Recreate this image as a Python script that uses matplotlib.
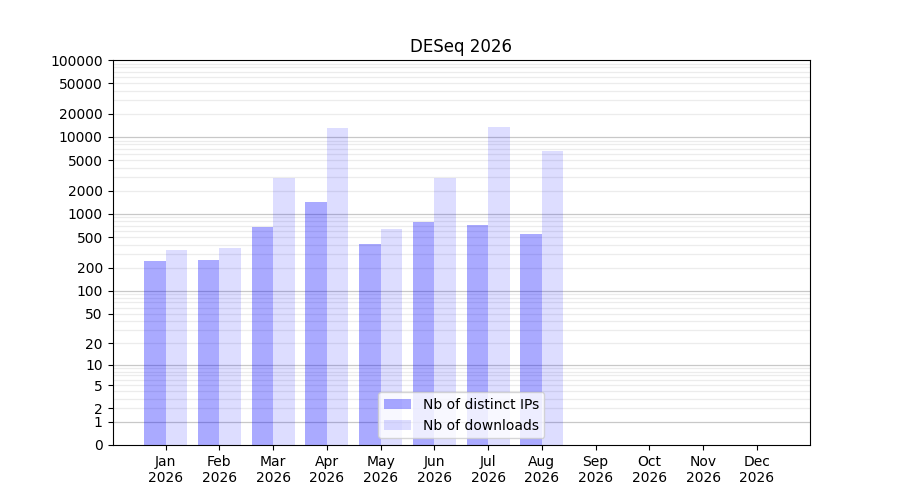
import numpy as np
import matplotlib
matplotlib.use("Agg")
import matplotlib.pyplot as plt

months = ["Jan", "Feb", "Mar", "Apr", "May", "Jun", "Jul", "Aug", "Sep", "Oct", "Nov", "Dec"]
year = "2026"
ips = [247, 254, 683, 1445, 411, 794, 726, 554, 0, 0, 0, 0]
downloads = [343, 364, 2960, 13200, 643, 2960, 13600, 6640, 0, 0, 0, 0]
ytick_values = [0, 1, 2, 5, 10, 20, 50, 100, 200, 500, 1000, 2000, 5000, 10000, 20000, 50000, 100000]

fig, ax = plt.subplots(figsize=(9, 5), dpi=100)
ax.set_yscale("function", functions=(lambda v: np.log10(1 + np.clip(v, 0, None)),
                                     lambda y: 10 ** y - 1))

x = np.arange(len(months))
w = 0.4
ax.bar(x - w / 2, ips, width=w, color="blue", alpha=1 / 3, label="Nb of distinct IPs", zorder=2)
ax.bar(x + w / 2, downloads, width=w, color="blue", alpha=0.135, label="Nb of downloads", zorder=2)

# grid lines
for e in range(0, 5):
    for k in range(1, 10):
        v = k * 10 ** e
        if k == 1:
            ax.axhline(v, color="#c8c8c8", lw=0.9, zorder=1)
        else:
            ax.axhline(v, color="#ececec", lw=0.9, zorder=1)

ax.set_ylim(0, 100000)
ax.set_yticks(ytick_values)
ax.set_yticklabels([str(v) for v in ytick_values])
ax.yaxis.set_minor_locator(matplotlib.ticker.NullLocator())
ax.set_xticks(x)
ax.set_xticklabels([f"{m}\n{year}" for m in months])
ax.set_title("DESeq 2026")
ax.legend(loc="lower center")

fig.savefig("out.png", dpi=100)
